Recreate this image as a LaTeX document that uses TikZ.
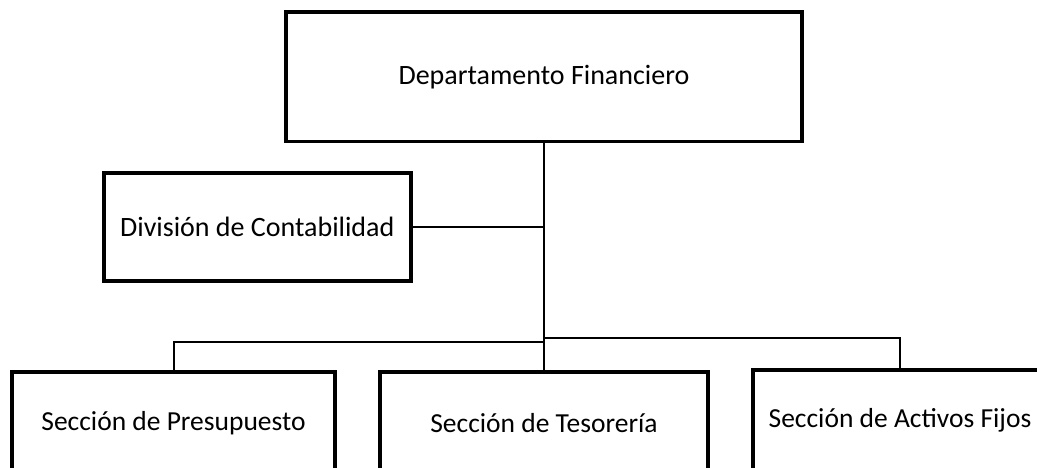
\documentclass[tikz,border=0pt]{standalone}
\usepackage{fontspec}
\setmainfont{Carlito}
\begin{document}
\begin{tikzpicture}[x=1pt,y=1pt,
  box/.style={draw=black,line width=3.5pt,fill=white,inner sep=0pt,font=\fontsize{27.5}{32}\selectfont},
  conn/.style={draw=black,line width=2pt}]
\useasboundingbox (0,0) rectangle (1037,-468);
\clip (0,0) rectangle (1037,-468);
\fill[white] (0,0) rectangle (1037,-468);
\node[box,minimum width=516,minimum height=129.5,font=\fontsize{28}{32}\selectfont] (dep) at (544,-77) {Departamento Financiero};
\node[box,minimum width=307,minimum height=107.5,font=\fontsize{28}{32}\selectfont] (div) at (257.3,-227) {División de Contabilidad};
\node[box,minimum width=323,minimum height=102] (pre) at (173.5,-423) {Sección de Presupuesto};
\node[box,minimum width=328,minimum height=102] (tes) at (544,-423) {Sección de Tesorería};
\node[box,minimum width=294,minimum height=100] (act) at (900,-420) {Sección de Activos Fijos};
\coordinate (jl) at (544,-342);
\coordinate (jr) at (544,-338);
\draw[conn] (dep.south) -- (tes.north);
\draw[conn] (div.east) -- (div.east -| dep.south);
\draw[conn] (jl) -| (pre.north);
\draw[conn] (jr) -| (act.north);
\end{tikzpicture}
\end{document}
